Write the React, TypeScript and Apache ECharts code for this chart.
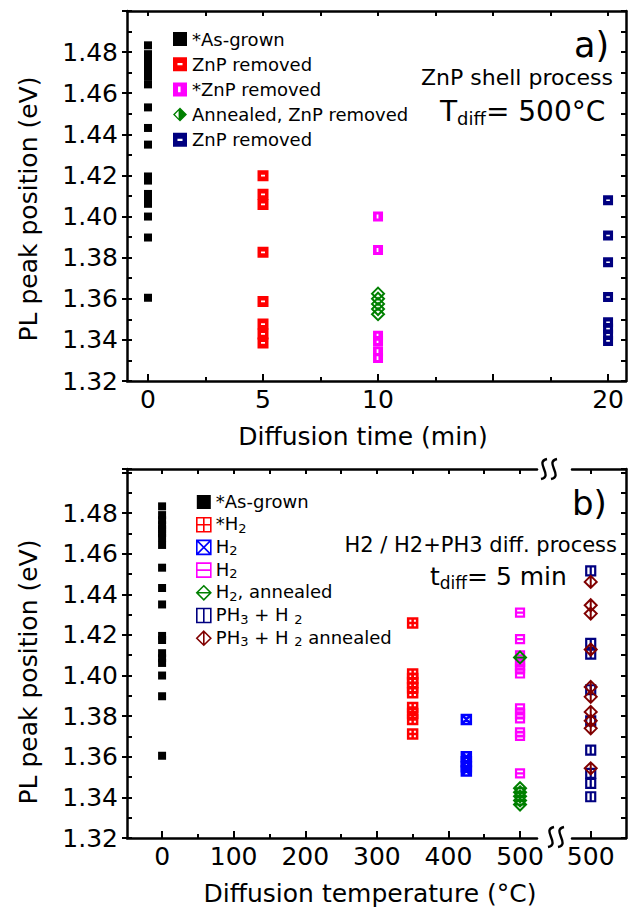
import React, { useEffect, useRef } from 'react';
import * as echarts from 'echarts';

const FONT = 'DejaVu Sans';

// ---------- panel a) : diffusion time ----------
const timeTicks = [0, 5, 10, 15, 20];
const timeLabels = [0, 5, 10, 20];
const timeMinorTicks = [2.5, 7.5, 12.5, 17.5];
const timeTopTicks = [0, 2.5, 5, 7.5, 10, 12.5, 15, 17.5, 20];

const asGrownX = 0;
const asGrownY = [1.4833, 1.479, 1.4765, 1.474, 1.472, 1.47, 1.468, 1.4643, 1.4531, 1.4431, 1.435, 1.4195, 1.4175, 1.411, 1.4085, 1.4062, 1.4, 1.3898, 1.3605];

const znpRedX = 5;
const znpRedY = [1.4199, 1.4108, 1.4059, 1.3826, 1.3587, 1.3477, 1.3429, 1.3385];

const znpMagX = 10;
const znpMagY = [1.4, 1.3837, 1.342, 1.3395, 1.3345, 1.3312];

const annealedX = 10;
const annealedY = [1.3625, 1.36, 1.3575, 1.355, 1.3525];

const znpNavyX = 20;
const znpNavyY = [1.4079, 1.3908, 1.3778, 1.3609, 1.3486, 1.3455, 1.3425, 1.3395];

// ---------- panel b) : diffusion temperature ----------
const tempTicks = [0, 100, 200, 300, 400, 500];
const tempMinorTicks = [50, 150, 250, 350, 450];
const tempTopTicks = [0, 50, 100, 150, 200, 250, 300, 350, 400, 450, 500];
const breakTicks = [500];

const h2StarX = 350;
const h2StarY = [1.4259, 1.4007, 1.3985, 1.3964, 1.394, 1.3915, 1.3843, 1.3813, 1.3784, 1.3712];

const h2BlueX = 425;
const h2BlueY = [1.3784, 1.36, 1.3575, 1.3551, 1.353];

const h2MagX = 500;
const h2MagY = [1.431, 1.4179, 1.41, 1.4067, 1.405, 1.4035, 1.401, 1.3838, 1.3812, 1.3789, 1.372, 1.3703, 1.3518];

const h2AnnX = 500;
const h2AnnY = [1.4089, 1.3445, 1.3425, 1.3405, 1.3385, 1.3365];

const ph3X = 500;
const ph3Y = [1.4515, 1.4158, 1.4105, 1.393, 1.3777, 1.3633, 1.3518, 1.3469, 1.3403];

const ph3AnnX = 500;
const ph3AnnY = [1.4461, 1.4346, 1.4305, 1.4128, 1.3944, 1.3895, 1.3821, 1.3777, 1.374, 1.3543];

// ---------- symbols ----------
const P_HBAR = 'path://M0,0H10V10H0Z M3.2,4.2V5.8H6.8V4.2Z';
const P_VBAR = 'path://M0,0H10V10H0Z M3.6,3V7H5.4V3Z';
const P_DIAM = 'path://M5,0L10,5L5,10L0,5Z';
const P_DIAM_HALF = 'path://M5,0L10,5L5,10L0,5Z M4,2.3L1.4,5L4,7.7Z';
const P_GRID = 'path://M0,0H10V10H0Z M5,0V10 M0,5H10';
const P_X = 'path://M0,0H10V10H0Z M0,0L10,10 M10,0L0,10';
const P_HLINE = 'path://M0,0H10V10H0Z M0,5H10';
const P_DIAM_H = 'path://M5,0L10,5L5,10L0,5Z M0,5H10';
const P_VLINE = 'path://M0,0H10V10H0Z M5,0V10';
const P_DIAM_V = 'path://M5,0L10,5L5,10L0,5Z M5,0V10';

const RED = '#ff0000';
const MAG = '#ff00ff';
const GREEN = '#008000';
const NAVY = '#000080';
const BLUE = '#0000ff';
const DRED = '#800000';

const lineStyle = { color: '#000', width: 2.5 };
const tickStyle = { color: '#000', width: 2 };

function xAx(grid: number, pos: string, min: number, max: number, ticks: number[], len: number, line: boolean, labels?: number[]) {
  return {
    type: 'value', gridIndex: grid, position: pos, min, max,
    axisLine: { show: line, onZero: false, lineStyle },
    axisTick: { show: true, inside: true, length: len, customValues: ticks, lineStyle: tickStyle },
    axisLabel: labels
      ? { show: true, customValues: labels, fontSize: 25, fontFamily: FONT, color: '#000', margin: 6 }
      : { show: false },
    splitLine: { show: false },
  };
}

function yAx(grid: number, pos: string, max: number, interval: number, inside: boolean, line: boolean, labels: boolean) {
  return {
    type: 'value', gridIndex: grid, position: pos, min: 1.32, max, interval,
    axisLine: { show: line, onZero: false, lineStyle },
    axisTick: { show: true, inside, length: 5, lineStyle: tickStyle },
    axisLabel: labels
      ? {
          show: true, fontSize: 25, fontFamily: FONT, color: '#000', margin: 9,
          formatter: (v: number) => (v > 1.495 ? '' : v.toFixed(2)),
        }
      : { show: false },
    splitLine: { show: false },
  };
}

const T_MIN = -0.913, T_MAX = 20.78;
const B_MIN = -49, B_MAX = 523.7;
const C_MIN = 474, C_MAX = 549;
const A_YMAX = 1.5, B_YMAX = 1.5017;

function sc(name: string, xi: number, yi: number, x: number, ys: number[], symbol: string, size: number, itemStyle: any) {
  return {
    type: 'scatter', name, xAxisIndex: xi, yAxisIndex: yi,
    data: ys.map((v) => [x, v]), symbol, symbolSize: size, itemStyle,
  };
}

const hollow = (c: string, w: number) => ({ color: 'rgba(0,0,0,0)', borderColor: c, borderWidth: w, opacity: 1 });
const filled = (c: string) => ({ color: c, borderWidth: 0, opacity: 1 });

const topLabels: Record<string, string> = {
  tAs: '*As-grown',
  tZnR: 'ZnP removed',
  tZnM: '*ZnP removed',
  tAnn: 'Annealed, ZnP removed',
  tZnN: 'ZnP removed',
};
const botLabels: Record<string, string> = {
  bAs: '{n|*As-grown}',
  bH2s: '{n|*H}{s|2}',
  bH2x: '{n|H}{s|2}',
  bH2m: '{n|H}{s|2}',
  bH2a: '{n|H}{s|2}{n|, annealed}',
  bPH: '{n|PH}{s|3}{n| + H }{s|2}',
  bPHa: '{n|PH}{s|3}{n| + H }{s|2}{n| annealed}',
};

function sCurve(x0: number, y0: number) {
  return {
    type: 'bezierCurve',
    shape: { x1: x0, y1: y0 + 10, cpx1: x0 + 13, cpy1: y0 + 7, cpx2: x0 - 7, cpy2: y0 - 7, x2: x0 + 6, y2: y0 - 10 },
    style: { stroke: '#000', lineWidth: 2.4, fill: null },
    z: 100,
  };
}

const richSub = (big: number, small: number, padB: number, sLH: number) => ({
  n: { fontSize: big, fontFamily: FONT, lineHeight: big + 2, padding: [0, 0, padB, 0], verticalAlign: 'top', fill: '#000', color: '#000' },
  s: { fontSize: small, fontFamily: FONT, lineHeight: sLH, verticalAlign: 'bottom', fill: '#000', color: '#000' },
});

const option: any = {
  animation: false,
  textStyle: { fontFamily: FONT },
  grid: [
    { left: 127, right: 2, top: 11, bottom: 527 },
    { left: 127, right: 91, top: 469, bottom: 70 },
    { left: 572, right: 2, top: 469, bottom: 70 },
  ],
  xAxis: [
    xAx(0, 'bottom', T_MIN, T_MAX, timeTicks, 7, true, timeLabels),
    xAx(0, 'bottom', T_MIN, T_MAX, timeMinorTicks, 4, false),
    xAx(0, 'top', T_MIN, T_MAX, timeTopTicks, 5, true),
    xAx(1, 'bottom', B_MIN, B_MAX, tempTicks, 7, true, tempTicks),
    xAx(1, 'bottom', B_MIN, B_MAX, tempMinorTicks, 4, false),
    xAx(1, 'top', B_MIN, B_MAX, tempTopTicks, 5, true),
    xAx(2, 'bottom', C_MIN, C_MAX, breakTicks, 7, true, breakTicks),
    xAx(2, 'top', C_MIN, C_MAX, breakTicks, 5, true),
  ],
  yAxis: [
    yAx(0, 'left', A_YMAX, 0.02, false, true, true),
    yAx(0, 'left', A_YMAX, 0.01, true, false, false),
    yAx(0, 'right', A_YMAX, 0.01, true, true, false),
    yAx(1, 'left', B_YMAX, 0.02, false, true, true),
    yAx(1, 'left', B_YMAX, 0.01, true, false, false),
    yAx(2, 'right', B_YMAX, 0.01, true, true, false),
  ],
  legend: [
    {
      orient: 'vertical', left: 173, top: 29, padding: 0, itemWidth: 14, itemHeight: 14, itemGap: 5.2,
      selectedMode: false,
      formatter: (n: string) => topLabels[n],
      textStyle: { fontSize: 18, lineHeight: 20, fontFamily: FONT, color: '#000' },
      data: [
        { name: 'tAs' },
        { name: 'tZnR' },
        { name: 'tZnM' },
        { name: 'tAnn', icon: P_DIAM_HALF, itemStyle: { color: GREEN, borderWidth: 0 } },
        { name: 'tZnN' },
      ],
    },
    {
      orient: 'vertical', left: 196, top: 492, padding: 0, itemWidth: 14, itemHeight: 14, itemGap: 1.7,
      selectedMode: false,
      formatter: (n: string) => botLabels[n],
      textStyle: { fontSize: 18, fontFamily: FONT, color: '#000', rich: richSub(18, 13, 3, 14) },
      data: [
        { name: 'bAs' },
        { name: 'bH2s', itemStyle: { borderWidth: 1.6 } },
        { name: 'bH2x', itemStyle: { borderWidth: 1.6 } },
        { name: 'bH2m', itemStyle: { borderWidth: 1.6 } },
        { name: 'bH2a', itemStyle: { borderWidth: 1.6 } },
        { name: 'bPH', itemStyle: { borderWidth: 1.6 } },
        { name: 'bPHa', itemStyle: { borderWidth: 1.6 } },
      ],
    },
  ],
  series: [
    sc('tAs', 0, 0, asGrownX, asGrownY, 'rect', 8, filled('#000')),
    sc('tZnR', 0, 0, znpRedX, znpRedY, P_HBAR, 11, filled(RED)),
    sc('tZnM', 0, 0, znpMagX, znpMagY, P_VBAR, 10, filled(MAG)),
    sc('tAnn', 0, 0, annealedX, annealedY, P_DIAM, 12, hollow(GREEN, 2)),
    sc('tZnN', 0, 0, znpNavyX, znpNavyY, P_HBAR, 10, filled(NAVY)),

    sc('bAs', 3, 3, asGrownX, asGrownY, 'rect', 8, filled('#000')),
    sc('bH2s', 3, 3, h2StarX, h2StarY, P_GRID, 9, hollow(RED, 2.5)),
    sc('bH2x', 3, 3, h2BlueX, h2BlueY, P_X, 9, hollow(BLUE, 2.5)),
    sc('bH2m', 3, 3, h2MagX, h2MagY, P_HLINE, 8, hollow(MAG, 2.2)),
    sc('bH2a', 3, 3, h2AnnX, h2AnnY, P_DIAM_H, 12, hollow(GREEN, 2)),
    sc('bPH', 6, 5, ph3X, ph3Y, P_VLINE, 9, hollow(NAVY, 2.2)),
    sc('bPHa', 6, 5, ph3AnnX, ph3AnnY, P_DIAM_V, 12, hollow(DRED, 2)),
  ],
  graphic: [
    {
      type: 'text', x: 28, y: 209, rotation: Math.PI / 2,
      style: { text: 'PL peak position (eV)', fontSize: 25, fontFamily: FONT, fill: '#000', align: 'center', verticalAlign: 'middle' },
    },
    {
      type: 'text', x: 28, y: 672, rotation: Math.PI / 2,
      style: { text: 'PL peak position (eV)', fontSize: 25, fontFamily: FONT, fill: '#000', align: 'center', verticalAlign: 'middle' },
    },
    {
      type: 'text', x: 363, y: 436,
      style: { text: 'Diffusion time (min)', fontSize: 25, fontFamily: FONT, fill: '#000', align: 'center', verticalAlign: 'middle' },
    },
    {
      type: 'text', x: 370, y: 893,
      style: { text: 'Diffusion temperature (°C)', fontSize: 25, fontFamily: FONT, fill: '#000', align: 'center', verticalAlign: 'middle' },
    },
    {
      type: 'text', x: 574, y: 45,
      style: { text: 'a)', fontSize: 35, fontFamily: FONT, fill: '#000', align: 'left', verticalAlign: 'middle' },
    },
    {
      type: 'text', x: 572, y: 503,
      style: { text: 'b)', fontSize: 34, fontFamily: FONT, fill: '#000', align: 'left', verticalAlign: 'middle' },
    },
    {
      type: 'text', x: 613, y: 77,
      style: { text: 'ZnP shell process', fontSize: 22, fontFamily: FONT, fill: '#000', align: 'right', verticalAlign: 'middle' },
    },
    {
      type: 'text', x: 617, y: 545,
      style: { text: 'H2 / H2+PH3 diff. process', fontSize: 21, fontFamily: FONT, fill: '#000', align: 'right', verticalAlign: 'middle' },
    },
    {
      type: 'text', x: 440, y: 97,
      style: { text: '{n|T}{s|diff}{n|= 500°C}', rich: richSub(28, 18, 5, 18), fill: '#000', align: 'left', verticalAlign: 'top' },
    },
    {
      type: 'text', x: 430, y: 564,
      style: { text: '{n|t}{s|diff}{n|= 5 min}', rich: richSub(25, 17, 5, 17), fill: '#000', align: 'left', verticalAlign: 'top' },
    },
    sCurve(548, 837),
    sCurve(558, 837),
    sCurve(541, 469),
    sCurve(551, 469),
  ],
};

export default function App() {
  const ref = useRef<HTMLDivElement>(null);
  useEffect(() => {
    const chart = echarts.init(ref.current!, null, { renderer: 'svg' });
    chart.setOption(option);
    return () => chart.dispose();
  }, []);
  return (
    <div
      ref={ref}
      style={{ position: 'absolute', left: 0, top: 0, width: 628, height: 908, background: '#fff' }}
    />
  );
}
